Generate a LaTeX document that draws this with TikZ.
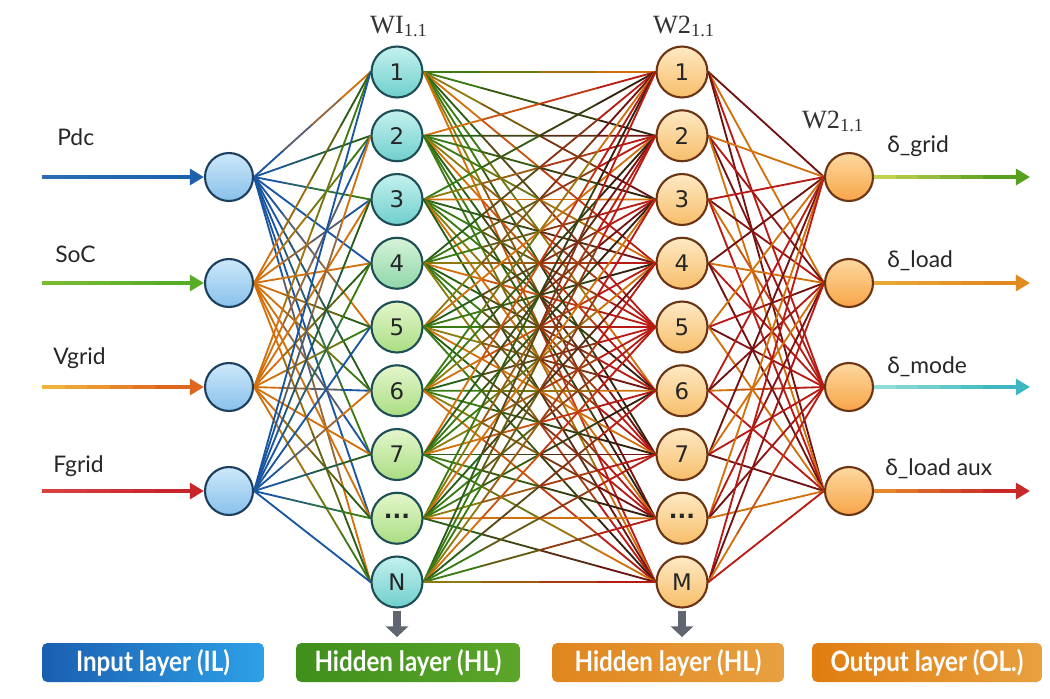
\documentclass[tikz,border=0pt]{standalone}
\usepackage{fontspec}
\setmainfont{Lato}
\newfontfamily\numfont{DejaVu Sans}
\newfontfamily\wfont{Liberation Serif}
\newfontfamily\boxfont[FakeStretch=0.86]{Lato}
\usetikzlibrary{calc,arrows.meta,backgrounds}

\definecolor{eblue}{HTML}{1A55A0}
\definecolor{egreen}{HTML}{3A7A12}
\definecolor{edgreen}{HTML}{285E16}
\definecolor{eorange}{HTML}{D2700C}
\definecolor{eolive}{HTML}{8C7C10}
\definecolor{ered}{HTML}{B81A14}
\definecolor{edred}{HTML}{701210}
\definecolor{edark}{HTML}{32200E}
\definecolor{egrey}{HTML}{5F6670}
\definecolor{nblue}{HTML}{1C3F5E}
\definecolor{nteal}{HTML}{1E4E55}
\definecolor{nbrown}{HTML}{6B3515}
\definecolor{pdcA}{HTML}{2B6CB0}\definecolor{pdcB}{HTML}{1E62AE}
\definecolor{socA}{HTML}{78BC34}\definecolor{socB}{HTML}{58AC26}
\definecolor{vgA}{HTML}{F0B43C}\definecolor{vgB}{HTML}{E0661E}
\definecolor{fgA}{HTML}{D84040}\definecolor{fgB}{HTML}{C8252A}
\definecolor{grA}{HTML}{C4D050}\definecolor{grB}{HTML}{58A020}
\definecolor{ldA}{HTML}{E8A838}\definecolor{ldB}{HTML}{E08A20}
\definecolor{mdA}{HTML}{90DDD5}\definecolor{mdB}{HTML}{3FB7C2}
\definecolor{axA}{HTML}{E8862A}\definecolor{axB}{HTML}{C82A2A}

% edge with a colour run from #3 to #4
\newcommand\gline[4]{%
  \foreach \gs in {0,...,3}{
    \pgfmathsetmacro\ga{\gs/4}
    \pgfmathsetmacro\gb{(\gs+1)/4}
    \pgfmathtruncatemacro\gp{100-\gs*33}
    \draw[edge,draw=#3!\gp!#4] ($(#1)!\ga!(#2)$) -- ($(#1)!\gb!(#2)$);
  }}
% in/out arrow with a colour run
\newcommand\garrow[4]{%
  \draw[arr,draw=#4,fill=#4] (#1) -- (#2);
  \foreach \gs in {0,...,5}{
    \pgfmathsetmacro\ga{\gs*0.14}
    \pgfmathsetmacro\gb{(\gs+1)*0.14+0.01}
    \pgfmathtruncatemacro\gp{100-\gs*20}
    \draw[shaft,draw=#3!\gp!#4] ($(#1)!\ga!(#2)$) -- ($(#1)!\gb!(#2)$);
  }}
\newcommand\ndots{\raisebox{0.35ex}{\bfseries ...}}

\begin{document}
\begin{tikzpicture}[x=0.02cm,y=-0.02cm,
    nd/.style={circle,line width=1.2pt,text=black!85,font=\numfont\fontsize{13}{14}\selectfont},
    nin/.style={nd,draw=nblue,minimum size=0.96cm,top color={rgb,255:red,205;green,232;blue,250},bottom color={rgb,255:red,136;green,192;blue,234}},
    nhb/.style={nd,draw=nteal,minimum size=1.02cm,top color={rgb,255:red,196;green,241;blue,238},bottom color={rgb,255:red,111;green,207;blue,204}},
    nhm/.style={nd,draw=nteal,minimum size=1.02cm,top color={rgb,255:red,214;green,243;blue,216},bottom color={rgb,255:red,143;green,214;blue,168}},
    nhg/.style={nd,draw=nteal,minimum size=1.02cm,top color={rgb,255:red,228;green,246;blue,204},bottom color={rgb,255:red,169;green,221;blue,130}},
    nho/.style={nd,draw=nbrown,minimum size=1.02cm,top color={rgb,255:red,254;green,233;blue,196},bottom color={rgb,255:red,247;green,190;blue,106}},
    nout/.style={nd,draw=nbrown,minimum size=0.96cm,top color={rgb,255:red,254;green,216;blue,160},bottom color={rgb,255:red,247;green,165;blue,72}},
    edge/.style={line width=1.05pt,line cap=round},
    arr/.style={line width=2.2pt,-{Triangle[length=8pt,width=9pt]}},
    shaft/.style={line width=2.2pt},
    lab/.style={anchor=base west,inner sep=0pt,font=\fontsize{13}{15}\selectfont,text=black!85},
    wl/.style={anchor=base,inner sep=0pt,font=\wfont\fontsize{15}{17}\selectfont,text=black!80},
    lbox/.style={rounded corners=3pt,minimum height=0.78cm,text=white,font=\boxfont\bfseries\fontsize{16}{18}\selectfont},
    darr/.style={line width=5pt,draw=egrey,-{Triangle[length=6pt,width=12.5pt]}}]
  \useasboundingbox (0,0) rectangle (1050,698);

  % layers
  \foreach \i/\y in {1/177,2/283,3/387,4/491}
    \node[nin] (i\i) at (229,\y) {};
  \foreach \j/\t/\st in {1/1/nhb,2/2/nhb,3/3/nhb,4/4/nhm,5/5/nhg,6/6/nhg,7/7/nhg,8/\ndots/nhg,9/N/nhb}
    \node[\st] (a\j) at (397,{72+63.75*(\j-1)}) {\t};
  \foreach \j/\t in {1/1,2/2,3/3,4/4,5/5,6/6,7/7,8/\ndots,9/M}
    \node[nho] (b\j) at (682,{72+63.75*(\j-1)}) {\t};
  \foreach \i/\y in {1/177,2/283,3/387,4/491}
    \node[nout] (o\i) at (849,\y) {};

  % weights
  \begin{scope}[on background layer]
    \foreach \i in {1,...,4}
      \foreach \j in {1,...,9}{
        \pgfmathsetmacro\ca{{"eblue","eorange","eorange","eblue"}[int(\i-1)]}
        \pgfmathsetmacro\cb{{"egreen","eblue","eorange","edgreen"}[int(mod(\i+\j,4))]}
        \gline{i\i.east}{a\j.west}{\ca}{\cb}
      }
    \foreach \j in {1,...,9}
      \foreach \k in {1,...,9}{
        \pgfmathsetmacro\ca{{"egreen","edgreen","eolive","egreen","eorange"}[int(mod(\j+2*\k,5))]}
        \pgfmathsetmacro\cb{{"ered","edred","eorange","ered","edark"}[int(mod(\j*\k+\k,5))]}
        \gline{a\j.east}{b\k.west}{\ca}{\cb}
      }
    \foreach \k in {1,...,9}
      \foreach \m in {1,...,4}{
        \pgfmathsetmacro\ca{{"eorange","ered","edred"}[int(mod(\k+\m,3))]}
        \pgfmathsetmacro\cb{{"ered","edred","eorange"}[int(mod(\k*\m,3))]}
        \gline{b\k.east}{o\m.west}{\ca}{\cb}
      }
  \end{scope}

  % inputs and outputs
  \foreach \i/\y/\ca/\cb in {1/177/pdcA/pdcB,2/283/socA/socB,3/387/vgA/vgB,4/491/fgA/fgB}{
    \coordinate (s\i) at (42,\y);
    \garrow{s\i}{i\i.west}{\ca}{\cb}
  }
  \foreach \i/\y/\ca/\cb in {1/177/grA/grB,2/283/ldA/ldB,3/387/mdA/mdB,4/491/axA/axB}{
    \coordinate (t\i) at (1030,\y);
    \garrow{o\i.east}{t\i}{\ca}{\cb}
  }
  \node[lab] (lpdc) at (57,145) {Pdc};
  \node[lab] (lsoc) at (55,262) {SoC};
  \node[lab] (lvg) at (53,364) {Vgrid};
  \node[lab] (lfg) at (53,472) {Fgrid};
  \node[lab] (lgr) at (887,152) {δ\_grid};
  \node[lab] (lld) at (887,267) {δ\_load};
  \node[lab] (lmd) at (887,373) {δ\_mode};
  \node[lab] (lax) at (885,475) {δ\_load aux};

  \node[wl] (w1) at (399,33) {WI\textsubscript{1.1}};
  \node[wl] (w2) at (684,33) {W2\textsubscript{1.1}};
  \node[wl] (w3) at (833,128) {W2\textsubscript{1.1}};

  % layer names
  \coordinate (d1) at (397,611); \coordinate (e1) at (397,637);
  \coordinate (d2) at (682,611); \coordinate (e2) at (682,637);
  \draw[darr] (d1) -- (e1);
  \draw[darr] (d2) -- (e2);
  \node[lbox,minimum width=4.44cm,left color={rgb,255:red,26;green,95;blue,176},right color={rgb,255:red,46;green,160;blue,232}] (il) at (153,662.5) {Input layer (IL)};
  \node[lbox,minimum width=4.48cm,left color={rgb,255:red,63;green,143;blue,28},right color={rgb,255:red,92;green,166;blue,42}] (hl1) at (408,662.5) {Hidden layer (HL)};
  \node[lbox,minimum width=4.64cm,left color={rgb,255:red,224;green,134;blue,30},right color={rgb,255:red,232;green,160;blue,64}] (hl2) at (668,662.5) {Hidden layer (HL)};
  \node[lbox,minimum width=4.6cm,left color={rgb,255:red,224;green,126;blue,16},right color={rgb,255:red,232;green,160;blue,64}] (ol) at (927,662.5) {Output layer (OL.)};
\end{tikzpicture}
\end{document}
